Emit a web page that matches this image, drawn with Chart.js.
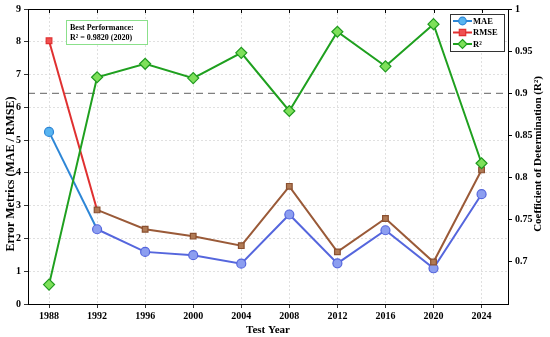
<!DOCTYPE html>
<html>
<head>
<meta charset="utf-8">
<script src="https://cdn.jsdelivr.net/npm/chart.js@4"></script>
<style>
  html, body { margin: 0; padding: 0; background: #fff; }
  #wrap { width: 550px; height: 337px; }
</style>
</head>
<body>
<div id="wrap"><canvas id="chart"></canvas></div>
<script>
// data
const years = [1988, 1992, 1996, 2000, 2004, 2008, 2012, 2016, 2020, 2024];
const mae  = [5.25, 2.28, 1.59, 1.49, 1.23, 2.73, 1.24, 2.25, 1.09, 3.35];
const rmse = [8.03, 2.87, 2.28, 2.07, 1.78, 3.59, 1.59, 2.61, 1.28, 4.09];
const r2   = [0.673, 0.919, 0.935, 0.918, 0.948, 0.879, 0.973, 0.932, 0.982, 0.817];
const r2Threshold = 0.9;
const leftTicks = [0, 1, 2, 3, 4, 5, 6, 7, 8, 9];
const rightTicks = [0.7, 0.75, 0.8, 0.85, 0.9, 0.95, 1];

const serif = '"Liberation Serif", "Times New Roman", serif';

// first segment keeps its pure colour, the rest look tinted in the reference
function segCol(first, rest) {
  return ctx => ctx.p0DataIndex === 0 ? first : rest;
}
function ptCol(first, rest) {
  return years.map((y, i) => i === 0 ? first : rest);
}

function vText(ctx, text, x, y, size) {
  ctx.save();
  ctx.translate(x, y);
  ctx.rotate(-Math.PI / 2);
  ctx.fillStyle = '#000';
  ctx.font = 'bold ' + size + 'px ' + serif;
  ctx.textAlign = 'center';
  ctx.textBaseline = 'middle';
  ctx.fillText(text, 0, 0);
  ctx.restore();
}

// dashed threshold, note box, legend, axis titles
const extras = {
  id: 'extras',
  beforeDatasetsDraw(chart) {
    const { ctx, chartArea: a } = chart;
    const py = chart.scales.y1.getPixelForValue(r2Threshold);
    ctx.save();
    ctx.strokeStyle = '#808080';
    ctx.lineWidth = 1.3;
    ctx.setLineDash([7, 5]);
    ctx.beginPath();
    ctx.moveTo(a.left, py);
    ctx.lineTo(a.right, py);
    ctx.stroke();
    ctx.restore();
  },
  afterDraw(chart) {
    const { ctx, chartArea: a } = chart;
    ctx.save();
    // note box
    ctx.fillStyle = '#fff';
    ctx.strokeStyle = '#8be08b';
    ctx.lineWidth = 1;
    ctx.fillRect(66, 20, 81, 24);
    ctx.strokeRect(66.5, 20.5, 81, 24);
    ctx.fillStyle = '#000';
    ctx.font = 'bold 8px ' + serif;
    ctx.textBaseline = 'middle';
    ctx.fillText('Best Performance:', 70, 27.5);
    const best = Math.max(...r2);
    ctx.fillText('R² = ' + best.toFixed(4) + ' (' + years[r2.indexOf(best)] + ')', 70, 37.5);

    // legend
    const lx = 450, ly = 14, lw = 54, lh = 37;
    ctx.fillStyle = '#fff';
    ctx.fillRect(lx, ly, lw, lh);
    ctx.strokeStyle = '#333';
    ctx.strokeRect(lx + 0.5, ly + 0.5, lw, lh);
    const items = [
      ['MAE', '#2d86d6', '#58b4f0', 'circle'],
      ['RMSE', '#e03030', '#f05050', 'rect'],
      ['R²', '#1fa01f', '#7ee05a', 'rectRot']
    ];
    items.forEach((it, i) => {
      const cy = ly + 7 + i * 11.5;
      ctx.strokeStyle = it[1];
      ctx.lineWidth = 2;
      ctx.beginPath();
      ctx.moveTo(lx + 3, cy);
      ctx.lineTo(lx + 22, cy);
      ctx.stroke();
      ctx.fillStyle = it[2];
      ctx.lineWidth = 1.2;
      ctx.beginPath();
      if (it[3] === 'circle') {
        ctx.arc(lx + 12.5, cy, 3.8, 0, Math.PI * 2);
      } else if (it[3] === 'rect') {
        ctx.rect(lx + 9.3, cy - 3.2, 6.4, 6.4);
      } else {
        ctx.moveTo(lx + 12.5, cy - 4.5);
        ctx.lineTo(lx + 17, cy);
        ctx.lineTo(lx + 12.5, cy + 4.5);
        ctx.lineTo(lx + 8, cy);
        ctx.closePath();
      }
      ctx.fill();
      ctx.stroke();
      ctx.fillStyle = '#000';
      ctx.font = 'bold 8.5px ' + serif;
      ctx.textBaseline = 'middle';
      ctx.fillText(it[0], lx + 23, cy + 0.5);
    });

    // frame + top ticks
    ctx.strokeStyle = '#000';
    ctx.lineWidth = 1;
    ctx.strokeRect(a.left + 0.5, a.top + 0.5, a.right - a.left, a.bottom - a.top);
    const xs = chart.scales.x;
    years.forEach(yv => {
      const px = Math.round(xs.getPixelForValue(yv)) + 0.5;
      ctx.beginPath();
      ctx.moveTo(px, a.top);
      ctx.lineTo(px, a.top + 4);
      ctx.stroke();
    });
    ctx.restore();

    // vertical axis titles (both read bottom to top)
    vText(ctx, 'Error Metrics (MAE / RMSE)', 11, 174, 12);
    vText(ctx, 'Coefficient of Determination (R²)', 538, 154, 11);
  }
};

const config = {
  type: 'line',
  data: {
    datasets: [
      {
        label: 'MAE',
        data: years.map((y, i) => ({ x: y, y: mae[i] })),
        yAxisID: 'y',
        borderWidth: 2,
        borderColor: '#2d86d6',
        segment: { borderColor: segCol('#2d86d6', '#5566dd') },
        pointStyle: 'circle',
        pointRadius: 4.5,
        pointBorderWidth: 1.2,
        pointBackgroundColor: ptCol('#58b4f0', '#8c9ef0'),
        pointBorderColor: ptCol('#2d86d6', '#5566dd'),
        order: 3
      },
      {
        label: 'RMSE',
        data: years.map((y, i) => ({ x: y, y: rmse[i] })),
        yAxisID: 'y',
        borderWidth: 2,
        borderColor: '#e03030',
        segment: { borderColor: segCol('#e03030', '#9a5a38') },
        pointStyle: 'rect',
        pointRadius: 4,
        pointBorderWidth: 1.2,
        pointBackgroundColor: ptCol('#f05050', '#b07a55'),
        pointBorderColor: ptCol('#e03030', '#8a5030'),
        order: 2
      },
      {
        label: 'R²',
        data: years.map((y, i) => ({ x: y, y: r2[i] })),
        yAxisID: 'y1',
        borderWidth: 2,
        borderColor: '#1fa01f',
        pointStyle: 'rectRot',
        pointRadius: 5.5,
        pointBorderWidth: 1.2,
        pointBackgroundColor: '#7ee05a',
        pointBorderColor: '#1f9a1f',
        order: 1
      }
    ]
  },
  options: {
    responsive: true,
    maintainAspectRatio: false,
    animation: false,
    layout: { padding: { top: 9, left: 0, right: 0, bottom: 0 } },
    plugins: {
      legend: { display: false },
      tooltip: { enabled: false }
    },
    scales: {
      x: {
        type: 'linear',
        min: 1986.25,
        max: 2026.2,
        afterBuildTicks: s => { s.ticks = years.map(v => ({ value: v })); },
        ticks: {
          color: '#000',
          font: { family: serif, size: 10, weight: 'bold' },
          padding: 2,
          maxRotation: 0,
          callback: v => String(v)
        },
        grid: { color: '#d8d8d8', lineWidth: 0.8, drawTicks: true, tickLength: 4, tickColor: '#000' },
        border: { color: '#000', dash: [2, 2] },
        title: {
          display: true,
          text: 'Test Year',
          color: '#000',
          font: { family: serif, size: 11, weight: 'bold' },
          padding: { top: 0, bottom: 0 }
        },
        afterFit: s => { s.height = 33; }
      },
      y: {
        position: 'left',
        min: 0,
        max: 9,
        afterBuildTicks: s => { s.ticks = leftTicks.map(v => ({ value: v })); },
        ticks: {
          color: '#000',
          font: { family: serif, size: 10, weight: 'bold' },
          padding: 3
        },
        grid: { color: '#d8d8d8', lineWidth: 0.8, tickLength: 4, tickColor: '#000' },
        border: { color: '#000', dash: [2, 2] },
        title: { display: false },
        afterFit: s => { s.width = 28; }
      },
      y1: {
        position: 'right',
        min: 0.65,
        max: 1,
        afterBuildTicks: s => { s.ticks = rightTicks.map(v => ({ value: v })); },
        ticks: {
          color: '#000',
          font: { family: serif, size: 10, weight: 'bold' },
          padding: 3,
          callback: v => String(+v.toFixed(2))
        },
        grid: { drawOnChartArea: false, tickLength: 4, tickColor: '#000' },
        border: { color: '#000' },
        title: { display: false },
        afterFit: s => { s.width = 42; }
      }
    }
  },
  plugins: [extras]
};

const ctx = document.getElementById('chart').getContext('2d');
const chart = new Chart(ctx, config);
</script>
</body>
</html>
